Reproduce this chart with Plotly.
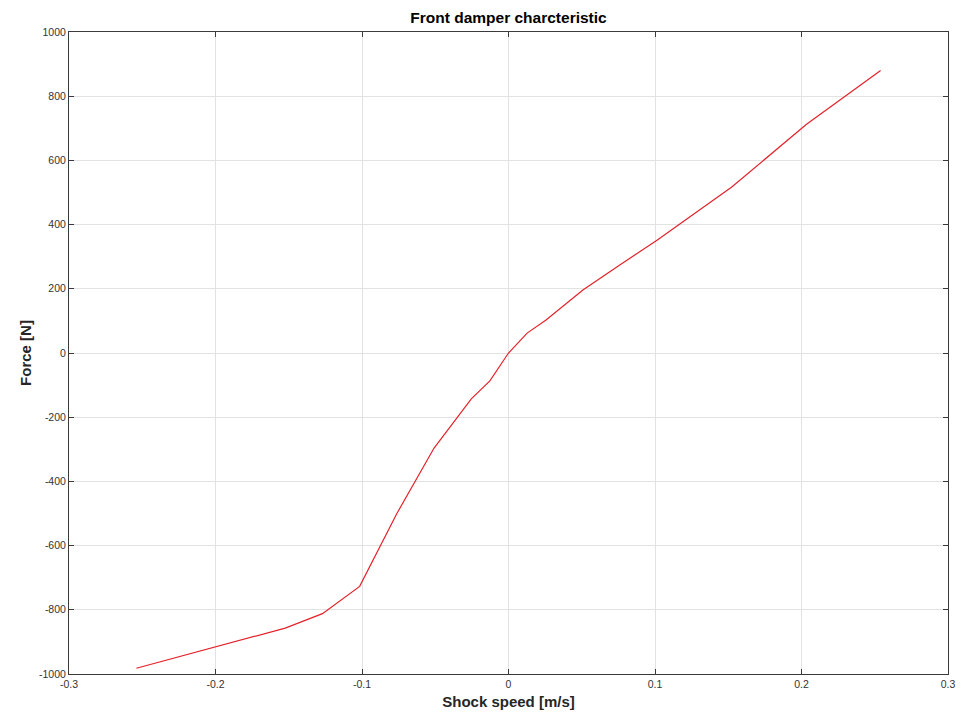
import plotly.graph_objects as go

speed = [-0.254, -0.2032, -0.1524, -0.127, -0.1016, -0.0762, -0.0508, -0.0254, -0.0127,
         0.0, 0.0127, 0.0254, 0.0508, 0.0762, 0.1016, 0.1524, 0.2032, 0.254]
force = [-982, -920, -857, -812, -727, -500, -296, -143, -87,
         0, 62, 102, 196, 275, 352, 517, 712, 880]

x_ticks = [-0.3, -0.2, -0.1, 0, 0.1, 0.2, 0.3]
x_tick_labels = ["-0.3", "-0.2", "-0.1", "0", "0.1", "0.2", "0.3"]
y_ticks = [-1000, -800, -600, -400, -200, 0, 200, 400, 600, 800, 1000]
y_tick_labels = [str(v) for v in y_ticks]

FONT = "Liberation Sans, Arial, Helvetica, sans-serif"

fig = go.Figure()
fig.add_trace(go.Scatter(x=speed, y=force, mode="lines",
                         line=dict(color="#e3222a", width=1.2), showlegend=False))

axis_common = dict(
    showline=True, linecolor="#3a3a3a", linewidth=1, mirror="ticks",
    ticks="inside", ticklen=5, tickcolor="#3a3a3a", tickwidth=1,
    showgrid=True, gridcolor="#e2e2e2", gridwidth=1, zeroline=False,
    automargin=False,
    tickfont=dict(family=FONT, size=10.5, color="#333333"),
)

fig.update_layout(
    width=952, height=702,
    paper_bgcolor="white", plot_bgcolor="white",
    margin=dict(l=61, r=12, t=24, b=36, autoexpand=False),
    title=dict(text="<b>Front damper charcteristic</b>", x=0.5, xref="paper",
               xanchor="center", yref="container", y=1 - 10 / 702, yanchor="middle",
               font=dict(family=FONT, size=15.5, color="#000000")),
    xaxis=dict(range=[-0.3, 0.3], tickvals=x_ticks, ticktext=x_tick_labels,
               title=dict(text="<b>Shock speed [m/s]</b>", standoff=13,
                          font=dict(family=FONT, size=15, color="#262626")),
               **axis_common),
    yaxis=dict(range=[-1000, 1000], tickvals=y_ticks, ticktext=y_tick_labels,
               title=dict(text="<b>Force [N]</b>", standoff=3,
                          font=dict(family=FONT, size=15, color="#262626")),
               **axis_common),
)

fig.write_html("out.html")
